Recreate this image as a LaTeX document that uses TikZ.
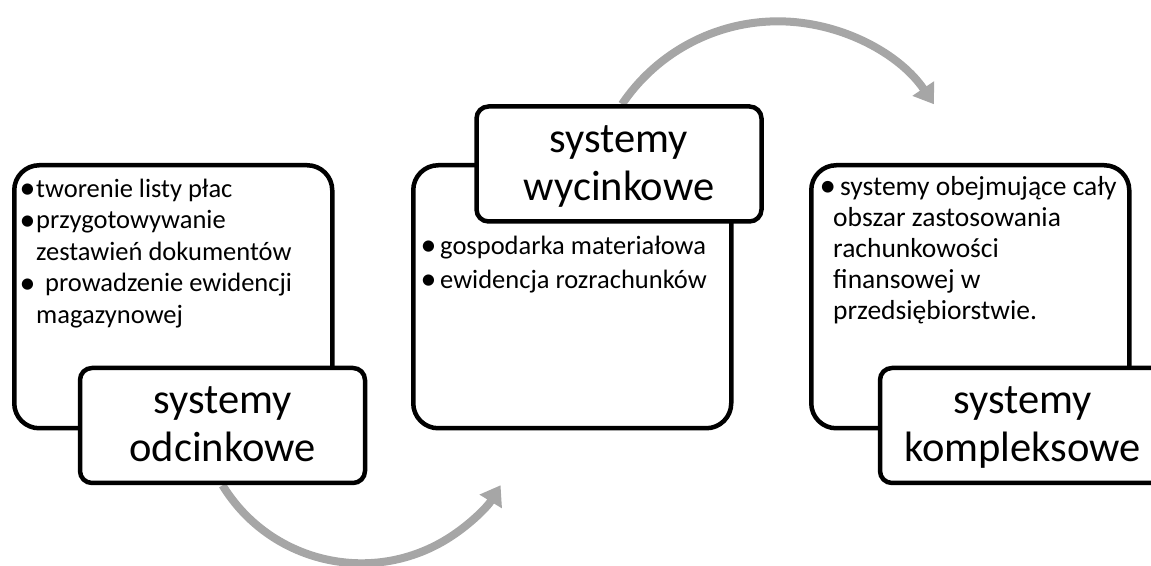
\documentclass[tikz,border=0pt]{standalone}
\usepackage{fontspec}
\setmainfont{Carlito}
\usetikzlibrary{arrows.meta,backgrounds}
\definecolor{arrowgray}{RGB}{166,166,166}
% enlarged bullet set in a box of the given width (pt)
\newcommand{\bul}[1]{\makebox[#1pt][l]{\hspace*{-2.5pt}\raisebox{-1.8pt}{\scalebox{1.2}{•}}}}
% invisible struts fixing the height of a first line and the depth of a last line
\newcommand{\linetop}[1]{\rule{0pt}{#1}}
\newcommand{\linebot}[1]{\rule[-#1]{0pt}{#1}}
\tikzset{
  x=1pt, y=1pt,
  panel/.style={draw=black, line width=4.5pt, rounded corners=25pt, fill=white,
    anchor=north west, minimum width=318pt, minimum height=263pt, inner sep=0pt},
  tag/.style={draw=black, line width=4.5pt, rounded corners=12pt, fill=white,
    minimum width=285pt, minimum height=115pt, inner sep=0pt, align=center,
    font=\fontsize{42.5}{48}\selectfont},
  notes/.style={anchor=north west, align=left, inner sep=0pt,
    font=\fontsize{26.5}{31.5}\selectfont},
  flow/.style={draw=arrowgray, line width=8pt, -{Triangle[length=19pt,width=25pt]}},
}
\begin{document}
\begin{tikzpicture}
\useasboundingbox (0,0) rectangle (1151,565);

% content panels
\node[panel] (p1) at (12,402) {};
\node[panel] (p2) at (411,402) {};
\node[panel] (p3) at (809,402) {};

% title tags
\node[tag] (t1) at (222.5,139.5) {\linetop{33pt}systemy\\odcinkowe\linebot{8pt}};
\node[tag] (t2) at (619,401) {\linetop{33pt}systemy\\wycinkowe\linebot{8pt}};
\node[tag] (t3) at (1022.5,139.5) {\linetop{33pt}systemy\\kompleksowe\linebot{8pt}};

% bullet lists
\node[notes] (n1) at (22,388) {\linetop{20pt}\bul{14}tworenie listy płac\\
  \bul{14}przygotowywanie\\
  \hspace*{14pt}zestawień dokumentów\\
  \bul{23}prowadzenie ewidencji\\
  \hspace*{14pt}magazynowej};
\node[notes] (n2) at (423,331) {\linetop{20pt}\bul{17}gospodarka materiałowa\\[2.5pt]
  \bul{17}ewidencja rozrachunków};
\node[notes, font=\fontsize{27.5}{31}\selectfont] (n3) at (822,390)
  {\linetop{20pt}\bul{18}systemy obejmujące cały\\
  \hspace*{11pt}obszar zastosowania\\
  \hspace*{11pt}rachunkowości\\
  \hspace*{11pt}finansowej w\\
  \hspace*{11pt}przedsiębiorstwie.};

% curved process arrows behind the boxes
\begin{pgfonlayer}{background}
  \draw[flow] (t1.south) arc[start angle=211.4, end angle=328.6, radius=162.9];
  \draw[flow] ([xshift=3pt]t2.north) arc[start angle=146, end angle=34, radius=188.1];
\end{pgfonlayer}
\end{tikzpicture}
\end{document}
